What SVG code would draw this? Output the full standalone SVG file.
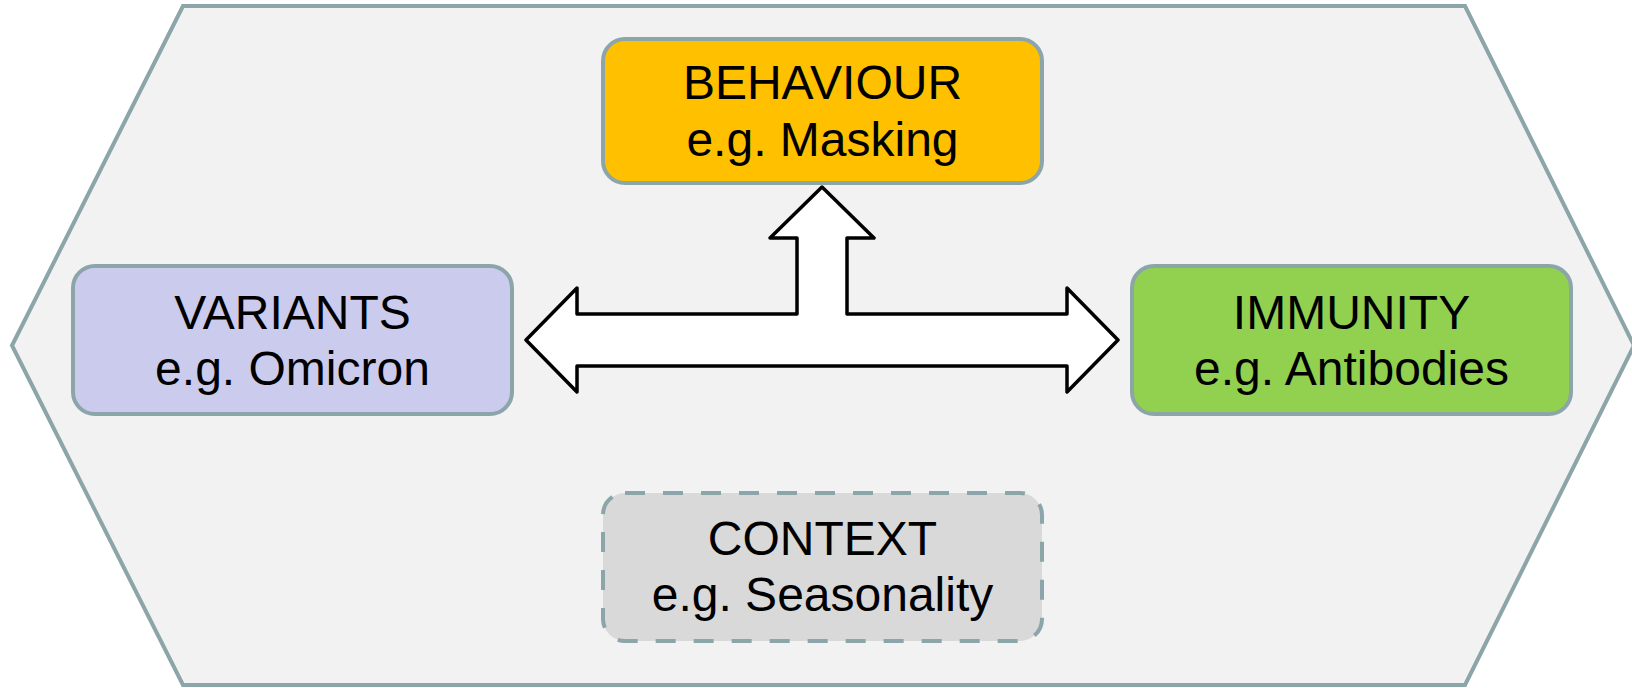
<svg xmlns="http://www.w3.org/2000/svg" width="1632" height="688" viewBox="0 0 1632 688">
<style>
.box{stroke:#8ba5a8;stroke-width:4}
.t{font-family:"Liberation Sans",Arial,sans-serif;font-size:48px;fill:#000;text-anchor:middle}
</style>
<rect width="1632" height="688" fill="#ffffff"/>
<g id="frame">
<polygon points="12,345.5 183,6 1465,6 1634,345.5 1465,685 183,685" fill="#f2f2f2" stroke="#8ba5a8" stroke-width="4" stroke-linejoin="miter"/>
</g>
<g id="connectors">
<path d="M822,187 L874,238 L847,238 L847,314 L1067,314 L1067,288 L1118,340 L1067,392 L1067,366 L577,366 L577,392 L526,340 L577,288 L577,314 L797,314 L797,238 L770,238 Z" fill="#ffffff" stroke="#000" stroke-width="3.5" stroke-linejoin="round"/>
</g>
<g id="behaviour">
<rect class="box" x="603" y="39" width="439" height="144" rx="22" fill="#ffc000"/>
<text class="t" x="822.5" y="99">BEHAVIOUR</text>
<text class="t" x="822.5" y="156">e.g. Masking</text>
</g>
<g id="variants">
<rect class="box" x="73" y="266" width="439" height="148" rx="22" fill="#cbcbed"/>
<text class="t" x="292.5" y="329">VARIANTS</text>
<text class="t" x="292.5" y="385">e.g. Omicron</text>
</g>
<g id="immunity">
<rect class="box" x="1132" y="266" width="439" height="148" rx="22" fill="#92d050"/>
<text class="t" x="1351.5" y="329">IMMUNITY</text>
<text class="t" x="1351.5" y="385">e.g. Antibodies</text>
</g>
<g id="context">
<rect class="box" x="603" y="493" width="439" height="148" rx="22" fill="#d9d9d9" stroke-dasharray="20 18"/>
<text class="t" x="822.5" y="555">CONTEXT</text>
<text class="t" x="822.5" y="611">e.g. Seasonality</text>
</g>
</svg>
